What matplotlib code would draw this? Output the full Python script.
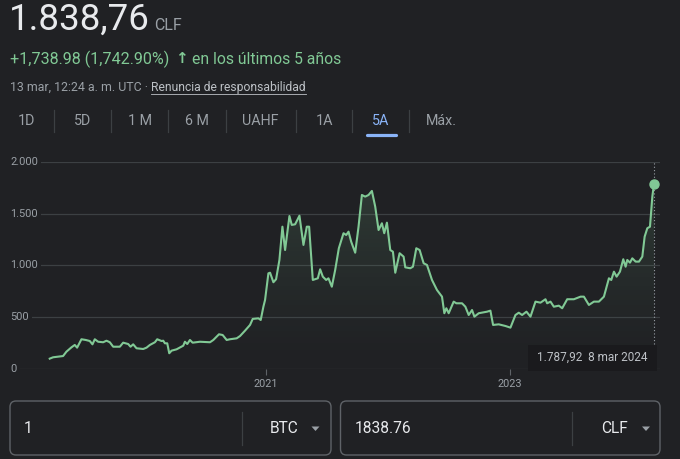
import numpy as np
import matplotlib
matplotlib.use("Agg")
import matplotlib.pyplot as plt
import matplotlib.dates as mdates
from matplotlib.patches import FancyBboxPatch, Rectangle, Polygon
from matplotlib.lines import Line2D
from matplotlib.transforms import Affine2D
from matplotlib.colors import to_rgb

# ---- data (BTC priced in CLF, 5 years) ----
dates = [
    "2019-03-25", "2019-04-04", "2019-05-04", "2019-05-14", "2019-05-29", "2019-06-08",
    "2019-06-15", "2019-06-28", "2019-07-11", "2019-07-23", "2019-07-31", "2019-08-07",
    "2019-08-17", "2019-09-01", "2019-09-11", "2019-09-21", "2019-10-01", "2019-10-21",
    "2019-10-31", "2019-11-15", "2019-11-22", "2019-11-30", "2019-12-10", "2019-12-30",
    "2020-01-09", "2020-01-19", "2020-02-03", "2020-02-10", "2020-02-23", "2020-02-28",
    "2020-03-04", "2020-03-11", "2020-03-17", "2020-03-24", "2020-04-08", "2020-04-28",
    "2020-05-03", "2020-05-10", "2020-05-18", "2020-05-26", "2020-06-17", "2020-07-17",
    "2020-07-27", "2020-08-13", "2020-08-24", "2020-09-05", "2020-09-15", "2020-10-05",
    "2020-10-15", "2020-10-30", "2020-11-14", "2020-11-22", "2020-12-09", "2020-12-16",
    "2020-12-24", "2020-12-29",
    "2021-01-08", "2021-01-13", "2021-01-23", "2021-01-31", "2021-02-10", "2021-02-19",
    "2021-02-27", "2021-03-12", "2021-03-19", "2021-03-29", "2021-04-11", "2021-04-23",
    "2021-05-03", "2021-05-10", "2021-05-21", "2021-06-05", "2021-06-12", "2021-06-20",
    "2021-06-30", "2021-07-07", "2021-07-17", "2021-07-27", "2021-08-07", "2021-08-21",
    "2021-08-29", "2021-09-05", "2021-09-13", "2021-09-25", "2021-10-05", "2021-10-15",
    "2021-10-25", "2021-11-04", "2021-11-14", "2021-11-24", "2021-12-04", "2021-12-14",
    "2021-12-21", "2021-12-29",
    "2022-01-08", "2022-01-16", "2022-01-23", "2022-02-05", "2022-02-17", "2022-02-22",
    "2022-03-09", "2022-03-17", "2022-03-27", "2022-04-06", "2022-04-18", "2022-04-28",
    "2022-05-13", "2022-05-28", "2022-06-12", "2022-06-19", "2022-06-25", "2022-07-02",
    "2022-07-17", "2022-07-25", "2022-08-11", "2022-08-21", "2022-08-31", "2022-09-10",
    "2022-09-17", "2022-09-30", "2022-10-25", "2022-11-04", "2022-11-12", "2022-11-29",
    "2022-12-19",
    "2023-01-03", "2023-01-18", "2023-01-28", "2023-02-07", "2023-02-20", "2023-03-04",
    "2023-03-19", "2023-04-03", "2023-04-18", "2023-04-23", "2023-05-03", "2023-05-13",
    "2023-05-28", "2023-06-07", "2023-06-22", "2023-07-12", "2023-08-01", "2023-08-11",
    "2023-08-26", "2023-09-10", "2023-09-25", "2023-10-10", "2023-10-25", "2023-11-01",
    "2023-11-09", "2023-11-17", "2023-11-27", "2023-12-07", "2023-12-14", "2023-12-19",
    "2023-12-27",
    "2024-01-03", "2024-01-13", "2024-01-23", "2024-02-02", "2024-02-09", "2024-02-17",
    "2024-02-25", "2024-03-03", "2024-03-08",
]
prices = [
    100, 113, 125, 167, 209, 232, 206, 287, 280, 270, 238, 287,
    263, 258, 273, 258, 215, 215, 254, 241, 215, 238, 200, 193,
    206, 232, 258, 287, 270, 273, 248, 248, 152, 177, 190, 225,
    263, 241, 280, 254, 263, 258, 280, 335, 328, 280, 287, 296,
    318, 370, 425, 483, 489, 473, 601, 666,
    923, 929, 837, 866, 1052, 1373, 1148, 1476, 1390, 1396, 1479, 1197,
    1373, 1373, 859, 875, 962, 891, 859, 875, 794, 955, 1165, 1310,
    1293, 1325, 1228, 1122, 1373, 1679, 1663, 1679, 1718, 1566, 1341, 1406,
    1310, 1412,
    1148, 1132, 929, 1117, 1084, 981, 972, 987, 1165, 1148, 1020, 1004,
    859, 762, 698, 538, 586, 538, 650, 634, 634, 601, 521, 569,
    505, 538, 553, 563, 425, 431, 415,
    399, 521, 543, 521, 553, 505, 650, 640, 673, 634, 650, 601,
    611, 586, 673, 673, 698, 698, 618, 650, 650, 698, 875, 859,
    939, 891, 939, 1059, 987, 1052, 1026,
    1068, 1036, 1036, 1084, 1277, 1358, 1373, 1663, 1787.92,
]

y_ticks = [0, 500, 1000, 1500, 2000]
y_tick_labels = ["0", "500", "1.000", "1.500", "2.000"]
x_ticks = ["2021-01-01", "2023-01-01"]
x_tick_labels = ["2021", "2023"]
tabs = ["1D", "5D", "1 M", "6 M", "UAHF", "1A", "5A", "Máx."]
active_tab = "5A"
meses = ["ene", "feb", "mar", "abr", "may", "jun", "jul", "ago", "sept", "oct", "nov", "dic"]

price_now = "1.838,76"
currency = "CLF"
change_text = "+1,738.98 (1,742.90%)"
period_text = "en los últimos 5 años"
stamp_text = "13 mar, 12:24 a. m. UTC · "
disclaimer = "Renuncia de responsabilidad"
amount_from, unit_from = "1", "BTC"
amount_to, unit_to = "1838.76", "CLF"

# ---- colours ----
BG = "#202124"
GREEN = "#81c995"
GRAY = "#9aa0a6"
LIGHT = "#e8eaed"
GRID = "#3c4043"
BORDER = "#5f6368"
BLUE = "#8ab4f8"
FONT = ["Roboto", "DejaVu Sans"]

W, H = 680, 459
fig = plt.figure(figsize=(W / 100, H / 100), dpi=100)
fig.patch.set_facecolor(BG)
plt.rcParams["font.family"] = FONT

# pixel coordinates, origin top-left
T = Affine2D().scale(0.01, -0.01).translate(0, H / 100) + fig.dpi_scale_trans


def ftext(x, y, s, **kw):
    kw.setdefault("va", "center")
    return fig.text(x, y, s, transform=T, **kw)


# ---- header ----
ftext(9, 30, price_now, fontsize=26.5, color=LIGHT, va="baseline")
ftext(154.5, 30, currency, fontsize=11.5, color=GRAY, va="baseline")
ftext(10, 59, change_text, fontsize=11.6, color=GREEN)
ftext(181, 58.5, "↑", fontsize=11, color=GREEN, ha="center",
      family="DejaVu Sans", fontweight="bold")
ftext(192.5, 59, period_text, fontsize=11.3, color=GREEN)
ftext(10, 87.5, stamp_text, fontsize=8.9, color=GRAY)
disc = ftext(151, 87.5, disclaimer, fontsize=8.7, color="#bdc1c6")

# ---- range tabs ----
tab_x = [26.5, 83, 139.5, 196.5, 260.5, 324.5, 381, 441.5]
sep_x = [54.3, 111, 168.3, 225.7, 295.7, 352.3, 409.3]
for name, x in zip(tabs, tab_x):
    ftext(x, 121, name, fontsize=10.3, ha="center",
          color=BLUE if name == active_tab else GRAY)
for x in sep_x:
    fig.add_artist(Line2D([x, x], [110, 131.5], color=GRID, lw=0.9, transform=T))
ai = tab_x[tabs.index(active_tab)]
fig.add_artist(Line2D([ai - 14.5, ai + 14.5], [134.6, 134.6], color=BLUE, lw=2.3,
                      solid_capstyle="round", transform=T))

# ---- chart ----
ax = fig.add_axes([10 / W, 1 - 369 / H, 650 / W, (369 - 161.7) / H])
ax.set_facecolor("none")
xnum = mdates.date2num(np.array(dates, dtype="datetime64[D]"))

for v, lab in zip(y_ticks, y_tick_labels):
    ax.axhline(v, color=GRID, lw=0.9, zorder=0)
    ax.text(0, v, lab, transform=ax.get_yaxis_transform(), ha="left", va="center",
            fontsize=7.9, color=GRAY, zorder=1,
            bbox=dict(boxstyle="square,pad=0.3", fc=BG, ec="none"))

fill = ax.fill_between(xnum, prices, 0, color="none", lw=0)
grad = np.zeros((256, 1, 4))
grad[..., :3] = to_rgb(GREEN)
grad[..., 3] = np.linspace(0.0, 0.24, 256)[:, None] ** 1.3
im = ax.imshow(grad, extent=[xnum[0], xnum[-1], 0, max(prices)], origin="lower",
               aspect="auto", zorder=2, interpolation="bilinear")
im.set_clip_path(fill.get_paths()[0], transform=ax.transData)

ax.plot(xnum, prices, color=GREEN, lw=1.5, zorder=3, solid_joinstyle="round")
ax.plot(xnum[-1], prices[-1], "o", color=GREEN, ms=6.5, zorder=4)
ax.vlines(xnum[-1], 240, 2000, colors=GRAY, linestyles=(0, (1, 2)), lw=0.8, zorder=2)

ax.set_xlim(mdates.date2num(np.datetime64("2018-11-26")),
            mdates.date2num(np.datetime64("2024-03-26")))
ax.set_ylim(0, 2000)
ax.set_yticks([])
ax.set_xticks(mdates.date2num(np.array(x_ticks, dtype="datetime64[D]")))
ax.set_xticklabels(x_tick_labels)
ax.tick_params(axis="x", length=4, width=0.8, color=BORDER, labelcolor=GRAY,
               labelsize=7.8, pad=3)
for s in ax.spines.values():
    s.set_visible(False)

# tooltip for last point
last = np.datetime64(dates[-1], "D").astype(object)
val = f"{prices[-1]:,.2f}".replace(",", "#").replace(".", ",").replace("#", ".")
tip = f"{val}  {last.day} {meses[last.month - 1]} {last.year}"
fig.add_artist(Rectangle((528, 345), 129, 25.5, fc="#1a1a1d", ec="none", transform=T))
ftext(592.5, 357.5, tip, fontsize=8.5, color="#bdc1c6", ha="center")

# ---- converter boxes ----
for x0, x1, sep, amt, unit, ux, tri in [
    (10, 331, 242, amount_from, unit_from, 284, 315.5),
    (340.5, 660, 572, amount_to, unit_to, 614.5, 646),
]:
    fig.add_artist(FancyBboxPatch((x0, 401), x1 - x0, 54,
                                  boxstyle="round,pad=0,rounding_size=6",
                                  fc="none", ec=BORDER, lw=1, transform=T))
    fig.add_artist(Line2D([sep, sep], [411.5, 444.5], color=GRID, lw=0.9, transform=T))
    ftext(x0 + 14, 428.5, amt, fontsize=11.2, color=LIGHT)
    ftext(ux, 428.5, unit, fontsize=11.2, color=LIGHT, ha="center")
    fig.add_artist(Polygon([[tri - 4, 426.5], [tri + 4, 426.5], [tri, 431]],
                           closed=True, fc=GRAY, ec="none", transform=T))

# underline for disclaimer link
fig.canvas.draw()
bb = disc.get_window_extent()
(ux0, _), (ux1, _) = T.inverted().transform([[bb.x0, bb.y0], [bb.x1, bb.y0]])
fig.add_artist(Line2D([ux0, ux1], [93.8, 93.8], color="#bdc1c6", lw=0.6, transform=T))

fig.savefig("out.png", dpi=100, facecolor=BG)
